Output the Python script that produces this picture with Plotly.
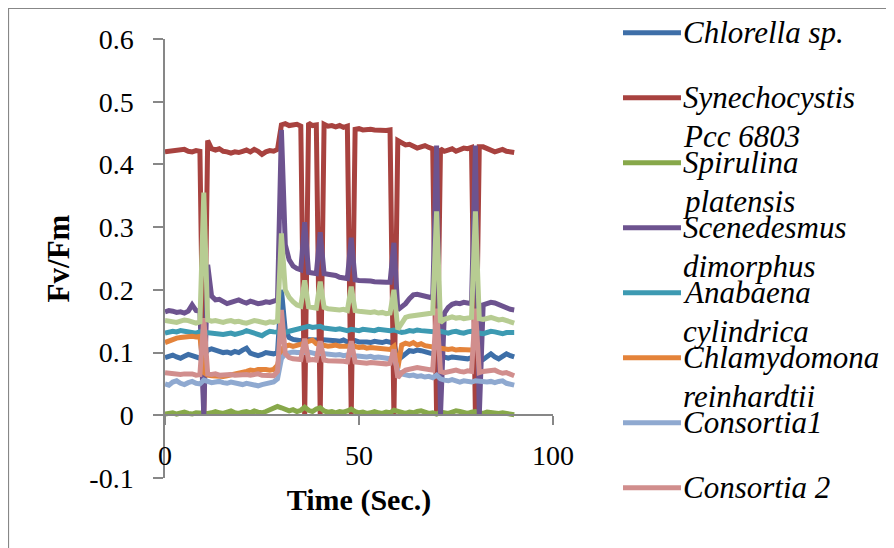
import plotly.graph_objects as go

# ---------------- data ----------------
time_s = list(range(0, 91))

chlorella = [0.092, 0.094, 0.096, 0.093, 0.091, 0.094, 0.097, 0.095, 0.093, 0.091,
             0.094, 0.104, 0.106, 0.104, 0.103, 0.100, 0.101, 0.099, 0.102, 0.100,
             0.104, 0.107, 0.099, 0.096, 0.095, 0.097, 0.100, 0.099, 0.098, 0.100,
             0.200, 0.135, 0.124, 0.121, 0.120, 0.119, 0.121, 0.120, 0.119, 0.120,
             0.121, 0.120, 0.119, 0.118, 0.119, 0.118, 0.120, 0.117, 0.118, 0.119,
             0.117, 0.118, 0.117, 0.116, 0.118, 0.117, 0.116, 0.118, 0.117, 0.115,
             0.088, 0.093, 0.099, 0.103, 0.102, 0.104, 0.103, 0.101, 0.100, 0.099,
             0.096, 0.094, 0.092, 0.091, 0.093, 0.092, 0.090, 0.091, 0.090, 0.092,
             0.090, 0.087, 0.089, 0.093, 0.098, 0.093, 0.090, 0.094, 0.098, 0.095,
             0.093]

synechocystis = [0.420, 0.421, 0.422, 0.421, 0.423, 0.424, 0.421, 0.420, 0.422, 0.421,
                 0.000, 0.438, 0.425, 0.423, 0.425, 0.421, 0.420, 0.418, 0.420, 0.419,
                 0.421, 0.423, 0.420, 0.424, 0.421, 0.416, 0.420, 0.422, 0.421, 0.424,
                 0.463, 0.465, 0.462, 0.463, 0.464, 0.461, 0.000, 0.466, 0.462, 0.463,
                 0.000, 0.464, 0.461, 0.462, 0.460, 0.462, 0.459, 0.461, 0.000, 0.456,
                 0.457, 0.455, 0.456, 0.456, 0.455, 0.454, 0.455, 0.454, 0.455, 0.000,
                 0.438, 0.434, 0.431, 0.432, 0.428, 0.426, 0.428, 0.430, 0.427, 0.425,
                 0.000, 0.425, 0.421, 0.424, 0.425, 0.421, 0.424, 0.426, 0.425, 0.427,
                 0.000, 0.428, 0.428, 0.426, 0.423, 0.420, 0.422, 0.424, 0.421, 0.420,
                 0.419]

spirulina = [0.002, 0.003, 0.004, 0.002, 0.003, 0.005, 0.003, 0.002, 0.004, 0.003,
             0.002, 0.003, 0.004, 0.006, 0.004, 0.003, 0.005, 0.007, 0.004, 0.003,
             0.005, 0.006, 0.004, 0.007, 0.005, 0.004, 0.006, 0.008, 0.010, 0.014,
             0.012, 0.009, 0.007, 0.009, 0.006, 0.008, 0.013, 0.008, 0.006, 0.010,
             0.012, 0.007, 0.005, 0.006, 0.004, 0.006, 0.005, 0.007, 0.010, 0.006,
             0.004, 0.005, 0.003, 0.004, 0.006, 0.004, 0.003, 0.005, 0.004, 0.008,
             0.006, 0.004, 0.003, 0.005, 0.004, 0.006, 0.007, 0.005, 0.003, 0.004,
             0.002, 0.005, 0.004, 0.003, 0.005, 0.007, 0.006, 0.004, 0.003, 0.005,
             0.006, 0.004, 0.003, 0.005, 0.004, 0.002, 0.003, 0.004, 0.003, 0.002,
             0.001]

scenedesmus = [0.165, 0.167, 0.166, 0.164, 0.165, 0.163, 0.166, 0.176, 0.167, 0.166,
               0.000, 0.240, 0.190, 0.184, 0.185, 0.181, 0.178, 0.180, 0.182, 0.184,
               0.181, 0.179, 0.182, 0.180, 0.178, 0.179, 0.181, 0.180, 0.182, 0.184,
               0.455, 0.272, 0.248, 0.238, 0.234, 0.232, 0.308, 0.228, 0.227, 0.226,
               0.292, 0.226, 0.225, 0.225, 0.223, 0.220, 0.219, 0.218, 0.283, 0.216,
               0.215, 0.214, 0.213, 0.214, 0.213, 0.212, 0.213, 0.212, 0.212, 0.275,
               0.168, 0.172, 0.178, 0.186, 0.192, 0.193, 0.191, 0.190, 0.189, 0.187,
               0.430, 0.000, 0.163, 0.172, 0.177, 0.179, 0.178, 0.180, 0.179, 0.178,
               0.430, 0.000, 0.176, 0.178, 0.180, 0.179, 0.176, 0.173, 0.172, 0.169,
               0.168]

anabaena = [0.131, 0.133, 0.134, 0.133, 0.135, 0.134, 0.133, 0.132, 0.131, 0.133,
            0.132, 0.131, 0.130, 0.129, 0.128, 0.129, 0.130, 0.131, 0.129, 0.130,
            0.132, 0.135, 0.133, 0.131, 0.128, 0.127, 0.131, 0.134, 0.133, 0.132,
            0.131, 0.132, 0.134, 0.136, 0.137, 0.139, 0.141, 0.142, 0.140, 0.141,
            0.142, 0.139, 0.138, 0.136, 0.137, 0.138, 0.136, 0.135, 0.137, 0.136,
            0.135, 0.137, 0.136, 0.134, 0.135, 0.137, 0.136, 0.134, 0.135, 0.136,
            0.133, 0.132, 0.133, 0.135, 0.134, 0.136, 0.135, 0.134, 0.133, 0.132,
            0.133, 0.134, 0.132, 0.131, 0.133, 0.134, 0.132, 0.131, 0.133, 0.134,
            0.132, 0.131, 0.130, 0.132, 0.134, 0.133, 0.131, 0.130, 0.132, 0.133,
            0.132]

chlamydomonas = [0.116, 0.119, 0.122, 0.123, 0.124, 0.125, 0.124, 0.126, 0.125, 0.126,
                 0.068, 0.064, 0.063, 0.062, 0.063, 0.062, 0.063, 0.064, 0.065, 0.066,
                 0.068, 0.070, 0.072, 0.071, 0.073, 0.074, 0.073, 0.072, 0.073, 0.080,
                 0.105, 0.110, 0.112, 0.110, 0.111, 0.112, 0.115, 0.118, 0.120, 0.114,
                 0.112, 0.111, 0.110, 0.111, 0.112, 0.110, 0.109, 0.110, 0.111, 0.109,
                 0.108, 0.109, 0.107, 0.108, 0.107, 0.106, 0.107, 0.106, 0.105, 0.110,
                 0.075, 0.112, 0.115, 0.113, 0.116, 0.112, 0.114, 0.111, 0.110, 0.108,
                 0.107, 0.106, 0.107, 0.105, 0.106, 0.104, 0.105, 0.104, 0.103, 0.104,
                 None, None, None, None, None, None, None, None, None, None,
                 None]

consortia1 = [0.050, 0.048, 0.053, 0.055, 0.051, 0.049, 0.052, 0.054, 0.051, 0.050,
              0.056, 0.053, 0.052, 0.053, 0.054, 0.052, 0.051, 0.053, 0.052, 0.050,
              0.049, 0.051, 0.050, 0.048, 0.047, 0.049, 0.051, 0.052, 0.053, 0.058,
              0.090, 0.098, 0.100, 0.101, 0.100, 0.099, 0.100, 0.101, 0.099, 0.098,
              0.099, 0.098, 0.097, 0.098, 0.096, 0.097, 0.095, 0.096, 0.097, 0.095,
              0.094, 0.095, 0.093, 0.094, 0.092, 0.093, 0.092, 0.091, 0.090, 0.095,
              0.070, 0.066, 0.064, 0.063, 0.064, 0.062, 0.063, 0.061, 0.062, 0.060,
              0.064, 0.058, 0.056, 0.055, 0.057, 0.054, 0.053, 0.055, 0.054, 0.053,
              0.055, 0.054, 0.052, 0.053, 0.054, 0.052, 0.054, 0.055, 0.051, 0.049,
              0.048]

consortia2 = [0.068, 0.067, 0.066, 0.066, 0.065, 0.066, 0.067, 0.066, 0.064, 0.065,
              0.155, 0.066, 0.065, 0.066, 0.064, 0.065, 0.066, 0.065, 0.064, 0.065,
              0.066, 0.065, 0.064, 0.065, 0.066, 0.064, 0.063, 0.064, 0.063, 0.070,
              0.168, 0.098, 0.092, 0.090, 0.090, 0.089, 0.122, 0.088, 0.089, 0.088,
              0.118, 0.088, 0.087, 0.087, 0.086, 0.087, 0.086, 0.085, 0.118, 0.085,
              0.084, 0.084, 0.083, 0.084, 0.083, 0.082, 0.083, 0.082, 0.083, 0.105,
              0.060, 0.068, 0.072, 0.074, 0.075, 0.076, 0.075, 0.074, 0.073, 0.072,
              0.170, 0.070, 0.068, 0.069, 0.071, 0.072, 0.070, 0.069, 0.071, 0.070,
              0.170, 0.068, 0.070, 0.071, 0.073, 0.072, 0.069, 0.067, 0.068, 0.066,
              0.063]

series9 = [0.151, 0.150, 0.149, 0.148, 0.150, 0.152, 0.151, 0.149, 0.147, 0.149,
           0.355, 0.152, 0.150, 0.151, 0.149, 0.148, 0.150, 0.151, 0.149, 0.150,
           0.148, 0.147, 0.149, 0.151, 0.150, 0.148, 0.147, 0.149, 0.148, 0.150,
           0.290, 0.200, 0.188, 0.181, 0.176, 0.174, 0.215, 0.173, 0.172, 0.171,
           0.213, 0.172, 0.170, 0.169, 0.170, 0.168, 0.169, 0.167, 0.205, 0.167,
           0.166, 0.165, 0.166, 0.164, 0.165, 0.163, 0.164, 0.162, 0.163, 0.200,
           0.137, 0.148, 0.156, 0.158, 0.159, 0.160, 0.162, 0.163, 0.162, 0.163,
           0.325, 0.148, 0.153, 0.155, 0.157, 0.155, 0.156, 0.154, 0.155, 0.156,
           0.325, 0.154, 0.153, 0.155, 0.156, 0.154, 0.152, 0.153, 0.151, 0.149,
           0.147]

series_names = ["Chlorella sp.", "Synechocystis Pcc 6803", "Spirulina platensis",
                "Scenedesmus dimorphus", "Anabaena cylindrica",
                "Chlamydomona reinhardtii", "Consortia1", "Consortia 2", "Series 9"]
legend_lines = [["Chlorella sp."], ["Synechocystis", "Pcc 6803"],
                ["Spirulina", "platensis"], ["Scenedesmus", "dimorphus"],
                ["Anabaena", "cylindrica"], ["Chlamydomona", "reinhardtii"],
                ["Consortia1"], ["Consortia 2"]]
series_values = [chlorella, synechocystis, spirulina, scenedesmus, anabaena,
                 chlamydomonas, consortia1, consortia2, series9]

y_tick_vals = [-0.1, 0.0, 0.1, 0.2, 0.3, 0.4, 0.5, 0.6]
y_tick_text = ["-0.1", "0", "0.1", "0.2", "0.3", "0.4", "0.5", "0.6"]
x_tick_vals = [0, 50, 100]
x_tick_text = ["0", "50", "100"]

# ---------------- style / geometry ----------------
colors = ["#3E6FA8", "#A8423F", "#87A84A", "#6D538F", "#3D9AB2",
          "#E4833A", "#8FA9D0", "#D18E8D", "#B7CC92"]
SERIF = "Liberation Serif, Times New Roman, serif"
AXIS_GREY = "#878787"

OFF = 8                      # page body margin
W, H = 894 - OFF, 548 - OFF  # figure size that fits in the window
L = 165 - OFF
T = 39 - OFF
R = W - (553 - OFF)
B = H - (478 - OFF)
PW, PH = W - L - R, H - T - B


def fx(px):   # window pixel -> paper x
    return (px - OFF - L) / PW


def fy(py):   # window pixel -> paper y
    return (H - B - (py - OFF)) / PH


fig = go.Figure()
for name, vals, col in zip(series_names, series_values, colors):
    fig.add_trace(go.Scatter(x=time_s, y=vals, name=name, mode="lines",
                             line=dict(color=col, width=5),
                             showlegend=False))

fig.update_layout(
    width=W, height=H,
    margin=dict(l=L, r=R, t=T, b=B, autoexpand=False),
    paper_bgcolor="white", plot_bgcolor="white",
    font=dict(family=SERIF, color="black", size=28),
    showlegend=False,
    xaxis=dict(range=[0, 100], tickvals=x_tick_vals, ticktext=x_tick_text,
               anchor="free", position=0.1 / 0.7, side="bottom",
               showline=True, linecolor=AXIS_GREY, linewidth=1.5,
               ticks="outside", ticklen=9, tickwidth=1.5, tickcolor=AXIS_GREY,
               showgrid=False, zeroline=False,
               tickfont=dict(family=SERIF, size=28, color="black"),
               ticklabelstandoff=6,
               title=dict(text="<b>Time (Sec.)</b>", standoff=18,
                          font=dict(family=SERIF, size=30, color="black")),
               automargin=False),
    yaxis=dict(range=[-0.1, 0.6], tickvals=y_tick_vals, ticktext=y_tick_text,
               showline=True, linecolor=AXIS_GREY, linewidth=1.5,
               ticks="outside", ticklen=10, tickwidth=1.5, tickcolor=AXIS_GREY,
               showgrid=False, zeroline=False,
               tickfont=dict(family=SERIF, size=28, color="black"),
               ticklabelstandoff=14,
               title=dict(text="<b>Fv/Fm</b>", standoff=10,
                          font=dict(family=SERIF, size=31, color="black")),
               automargin=False),
)

shapes = [dict(type="rect", xref="paper", yref="paper",
               x0=fx(OFF + 0.5), x1=fx(894 + 20), y0=fy(548 + 20), y1=fy(OFF + 0.5),
               line=dict(color=AXIS_GREY, width=1.2), fillcolor="rgba(0,0,0,0)",
               layer="below")]
annotations = []
for i, (lines, col) in enumerate(zip(legend_lines, colors)):
    ly = 32.7 + 65 * i
    shapes.append(dict(type="line", xref="paper", yref="paper",
                       x0=fx(623), x1=fx(681), y0=fy(ly), y1=fy(ly),
                       line=dict(color=col, width=5)))
    for j, txt in enumerate(lines):
        annotations.append(dict(xref="paper", yref="paper", x=fx(681),
                                y=fy(ly + 38.5 * j),
                                xanchor="left", yanchor="middle", align="left",
                                text=txt, showarrow=False,
                                font=dict(family=SERIF, size=31, color="black",
                                          style="italic")))
fig.update_layout(shapes=shapes, annotations=annotations)

fig.write_html("out.html")
